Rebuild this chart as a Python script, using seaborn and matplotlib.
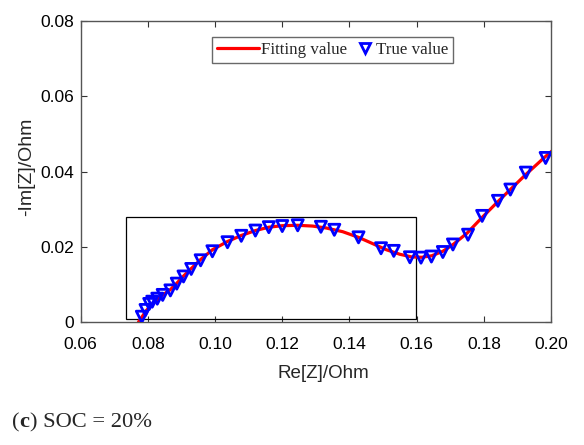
import matplotlib
matplotlib.use("Agg")
import matplotlib.pyplot as plt
import seaborn as sns
import pandas as pd
from matplotlib.lines import Line2D
from matplotlib.patches import Rectangle
from matplotlib.legend_handler import HandlerLine2D

# ---- data ----
true_re = [0.0782, 0.0793, 0.0804, 0.0813, 0.0828, 0.0844, 0.0867, 0.0886, 0.0906,
           0.0929, 0.0957, 0.0992, 0.1037, 0.1078, 0.1120, 0.1160, 0.1200, 0.1246,
           0.1315, 0.1355, 0.1427, 0.1494, 0.1532, 0.1580, 0.1613, 0.1644, 0.1678,
           0.1708, 0.1753, 0.1795, 0.1842, 0.1879, 0.1925, 0.1984]
true_im = [0.0014, 0.0032, 0.0048, 0.0054, 0.0062, 0.0072, 0.0084, 0.0102, 0.0121,
           0.0141, 0.0164, 0.0188, 0.0212, 0.0229, 0.0243, 0.0252, 0.0255, 0.0257,
           0.0253, 0.0245, 0.0225, 0.0196, 0.0189, 0.0172, 0.0171, 0.0174, 0.0186,
           0.0206, 0.0232, 0.0282, 0.0322, 0.0352, 0.0397, 0.0436]

fit_re = [0.0772, 0.0782, 0.0795, 0.0810, 0.0828, 0.0846, 0.0867, 0.0886, 0.0906,
          0.0929, 0.0957, 0.0992, 0.1037, 0.1078, 0.1120, 0.1160, 0.1200, 0.1246,
          0.1290, 0.1330, 0.1380, 0.1427, 0.1470, 0.1510, 0.1550, 0.1585, 0.1615,
          0.1645, 0.1678, 0.1710, 0.1750, 0.1795, 0.1842, 0.1880, 0.1925, 0.1980, 0.2010]
fit_im = [0.0000, 0.0013, 0.0030, 0.0045, 0.0060, 0.0073, 0.0086, 0.0103, 0.0122,
          0.0142, 0.0166, 0.0192, 0.0214, 0.0230, 0.0243, 0.0252, 0.0256, 0.0257,
          0.0255, 0.0250, 0.0240, 0.0225, 0.0208, 0.0192, 0.0180, 0.0173, 0.0172,
          0.0176, 0.0188, 0.0207, 0.0236, 0.0278, 0.0320, 0.0353, 0.0392, 0.0437, 0.0460]

x_ticks = [0.06, 0.08, 0.10, 0.12, 0.14, 0.16, 0.18, 0.20]
x_ticklabels = ["0.06", "0.08", "0.10", "0.12", "0.14", "0.16", "0.18", "0.20"]
y_ticks = [0, 0.02, 0.04, 0.06, 0.08]
y_ticklabels = ["0", "0.02", "0.04", "0.06", "0.08"]

zoom_box = [0.0734, 0.0007, 0.1597, 0.0279]  # x0, y0, x1, y1

series_labels = ["Fitting value", "True value"]
caption_parts = ["(", "c", ") SOC = 20%"]


class RightMarkerHandler(HandlerLine2D):
    """Place the single legend marker at the right end of the handle area."""
    def get_xdata(self, legend, xdescent, ydescent, width, height, fontsize):
        xm = width - xdescent - 6
        return [xm], [xm]


# ---- plot ----
sns.set_theme(style="white")
plt.rcParams["font.family"] = ["Liberation Sans", "DejaVu Sans"]

fig = plt.figure(figsize=(5.84, 4.45), dpi=100)
W, H = 584, 445
ax = fig.add_axes([80.7 / W, 1 - 322 / H, 470.3 / W, 301 / H])

fit_df = pd.DataFrame({"re": fit_re, "im": fit_im})
true_df = pd.DataFrame({"re": true_re, "im": true_im})

sns.lineplot(data=fit_df, x="re", y="im", sort=False, color="red", linewidth=2.3, ax=ax,
             zorder=2)
sns.scatterplot(data=true_df, x="re", y="im", marker="v", s=64, facecolors="none",
                edgecolor="blue", linewidth=2.0, ax=ax, zorder=3)

ax.add_patch(Rectangle((zoom_box[0], zoom_box[1]), zoom_box[2] - zoom_box[0],
                       zoom_box[3] - zoom_box[1], fill=False, edgecolor="black",
                       linewidth=0.9, zorder=1))

ax.set_xlim(0.06, 0.20)
ax.set_ylim(0, 0.08)
ax.set_xticks(x_ticks)
ax.set_xticklabels(x_ticklabels)
ax.set_yticks(y_ticks)
ax.set_yticklabels(y_ticklabels)
ax.tick_params(direction="in", length=4, width=0.8, colors="#333333", labelcolor="black",
               labelsize=12.5, top=True, right=True, bottom=True, left=True)
ax.tick_params(axis="x", pad=10.5)
ax.tick_params(axis="y", pad=4.5)
for sp in ax.spines.values():
    sp.set_color("#555555")
    sp.set_linewidth(1.0)
    sp.set_visible(True)

ax.set_xlabel("Re[Z]/Ohm", fontsize=13.5, labelpad=9.5, x=0.515)
ax.set_ylabel("-Im[Z]/Ohm", fontsize=14, labelpad=4, y=0.515)

line_handle = Line2D([], [], color="red", linewidth=2.3)
mark_handle = Line2D([], [], color="blue", marker="v", linestyle="none", markersize=7.5,
                     markerfacecolor="none", markeredgewidth=2.0)
leg = ax.legend([line_handle, mark_handle], series_labels, loc="upper left",
                bbox_to_anchor=(0.279, 0.946), borderaxespad=0, ncol=2, frameon=True,
                fancybox=False, handlelength=2.5, handletextpad=0.12, columnspacing=-0.95,
                borderpad=0.3, handler_map={mark_handle: RightMarkerHandler(numpoints=1)},
                prop={"family": "Liberation Serif", "size": 12.2})
leg.get_frame().set_edgecolor("#444444")
leg.get_frame().set_linewidth(1.0)

# caption with bold "c"
fig.canvas.draw()
renderer = fig.canvas.get_renderer()
x = 12 / W
y = 18 / H
for part, weight in zip(caption_parts, ["normal", "bold", "normal"]):
    t = fig.text(x, y, part, fontsize=16.2, fontweight=weight, family="Liberation Serif",
                 ha="left", va="baseline")
    bb = t.get_window_extent(renderer)
    x = (bb.x1) / W

fig.savefig("out.png", dpi=100)
